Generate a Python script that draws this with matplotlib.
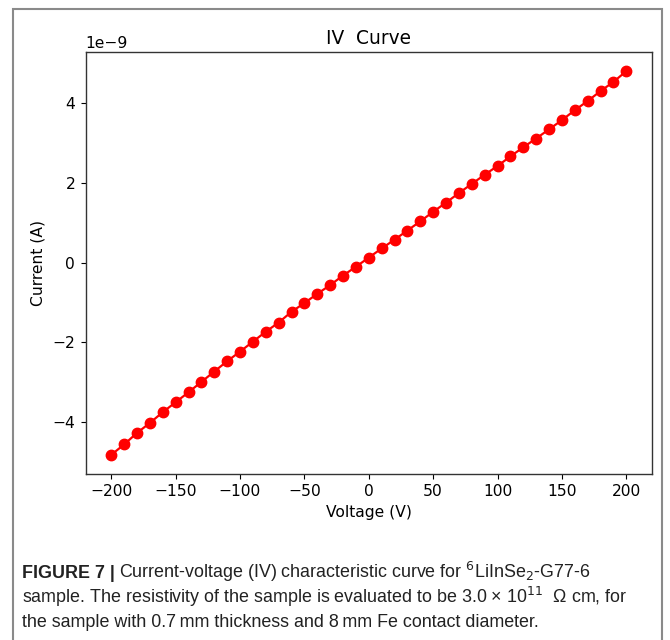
import numpy as np
import matplotlib.pyplot as plt
from matplotlib.patches import Rectangle

voltage = list(range(-200, 201, 10))
current_n = [-4.82, -4.56, -4.27, -4.02, -3.75, -3.50, -3.25, -2.99, -2.73, -2.47,
             -2.23, -1.98, -1.73, -1.50, -1.23, -1.01, -0.78, -0.56, -0.32, -0.10,
             0.13, 0.36, 0.58, 0.81, 1.04, 1.28, 1.51, 1.75, 1.98, 2.21,
             2.43, 2.67, 2.90, 3.12, 3.35, 3.58, 3.83, 4.06, 4.31, 4.54, 4.81]
current = np.array(current_n) * 1e-9

fs = 11.2

fig = plt.figure(figsize=(6.7, 6.4), dpi=100)

# grey frame around the figure panel
fig.patches.append(Rectangle((13 / 670, -0.05), 649 / 670, 1.05 - 9 / 640,
                             transform=fig.transFigure, fill=False,
                             edgecolor='#8a8a8a', linewidth=1.5))

ax = fig.add_axes([85.5 / 670, 1 - 474 / 640, (652 - 85.5) / 670, (474 - 52) / 640])
ax.plot(voltage, current, 'o-', color='red', markersize=7.5, linewidth=1.6)
ax.set_title('IV  Curve', fontsize=13.4, pad=6)
ax.set_xlabel('Voltage (V)', fontsize=fs)
ax.set_ylabel('Current (A)', fontsize=fs, labelpad=5)
ax.tick_params(labelsize=fs, length=3.9)
ax.yaxis.get_offset_text().set_fontsize(fs)
for s in ax.spines.values():
    s.set_color('#333333')
    s.set_linewidth(1.0)

# caption
cap_font = ['Liberation Sans', 'DejaVu Sans']
cfs = 12.9
ccol = '#222222'
y1 = 1 - 578 / 640
t0 = fig.text(22 / 670, y1, 'FIGURE 7 |', fontsize=cfs, va='baseline',
              family=cap_font, weight='bold', color=ccol)
fig.canvas.draw()
x_after = (t0.get_window_extent().x1 + 4) / fig.bbox.width
fig.text(x_after, y1,
         r'Current-voltage (IV) characteristic curve for $^{6}$LiInSe$_{2}$-G77-6',
         fontsize=cfs, va='baseline', family=cap_font, color=ccol)
fig.text(22 / 670, 1 - 603 / 640,
         'sample. The resistivity of the sample is evaluated to be 3.0 \u00d7 10$^{11}$  \u03a9 cm, for',
         fontsize=cfs, va='baseline', family=cap_font, color=ccol)
fig.text(22 / 670, 1 - 627 / 640,
         'the sample with 0.7\u2009mm thickness and 8\u2009mm Fe contact diameter.',
         fontsize=cfs, va='baseline', family=cap_font, color=ccol)

fig.savefig('out.png', dpi=100)
